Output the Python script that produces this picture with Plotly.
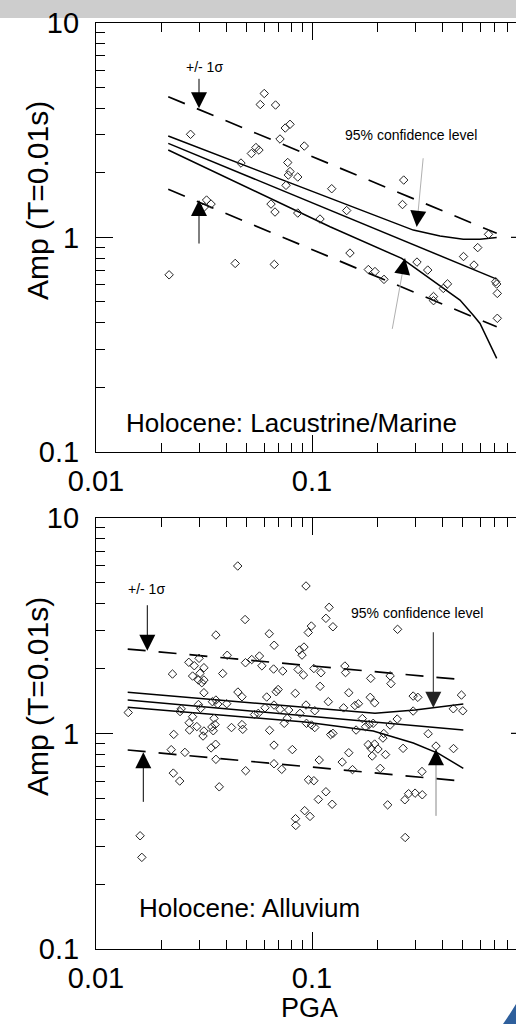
import plotly.graph_objects as go

FONT = "Liberation Sans, Arial, sans-serif"

# ---------------- Top panel: Holocene Lacustrine/Marine ----------------
lm_pga = [0.0218, 0.0274, 0.0317, 0.0325, 0.0341, 0.0441, 0.0469, 0.0524, 0.0550, 0.0568,
          0.0576, 0.0601, 0.0646, 0.0669, 0.0674, 0.0678, 0.0711, 0.0752, 0.0791, 0.0758,
          0.0772, 0.0791, 0.0777, 0.0859, 0.0859, 0.0921, 0.1089, 0.1234, 0.1447, 0.1499,
          0.1823, 0.1957, 0.2154, 0.2624, 0.2658, 0.3062, 0.3433, 0.3652, 0.3652, 0.4054,
          0.4239, 0.5029, 0.5623, 0.5851, 0.6564, 0.7087, 0.7163, 0.7210, 0.7210]
lm_amp = [0.669, 3.02, 1.384, 1.492, 1.429, 0.756, 2.219, 2.458, 2.621, 2.551,
          4.157, 4.679, 1.429, 0.748, 1.312, 4.135, 2.872, 3.231, 3.362, 1.747,
          2.232, 2.026, 1.951, 1.910, 1.298, 2.663, 1.217, 1.685, 1.333, 0.845,
          0.708, 0.693, 0.637, 1.422, 1.849, 0.767, 0.704, 0.530, 0.507, 0.578,
          0.607, 0.814, 0.743, 0.896, 1.033, 0.621, 0.606, 0.548, 0.4195]

lm_fit_pga = [0.0216, 0.7163]
lm_fit_amp = [2.742, 0.639]
lm_sig_hi = [4.521, 1.044]
lm_sig_lo = [1.674, 0.383]
lm_ci_hi_pga = [0.0216, 0.1212, 0.2944, 0.3915, 0.5018, 0.5995, 0.7163]
lm_ci_hi_amp = [2.965, 1.524, 1.081, 1.014, 0.979, 0.981, 0.998]
lm_ci_lo_pga = [0.0216, 0.1212, 0.2602, 0.4843, 0.558, 0.5995, 0.7163]
lm_ci_lo_amp = [2.551, 1.121, 0.798, 0.510, 0.434, 0.397, 0.273]

# ---------------- Bottom panel: Holocene Alluvium ----------------
al_pga = [0.0453, 0.0938, 0.120, 0.116, 0.125, 0.0490, 0.0993, 0.0961, 0.249, 0.0359,
          0.0634, 0.0668, 0.0918, 0.0874, 0.0899, 0.0405, 0.0269, 0.0300, 0.0285, 0.0316,
          0.0280, 0.0303, 0.0298, 0.0309, 0.0316, 0.0316, 0.0226, 0.0386, 0.0492, 0.0526,
          0.0571, 0.0586, 0.0664, 0.0732, 0.0862, 0.0913, 0.102, 0.110, 0.142, 0.143,
          0.187, 0.230, 0.232, 0.109, 0.0454, 0.0474, 0.0617, 0.0683, 0.0697, 0.0837,
          0.148, 0.186, 0.195, 0.294, 0.309, 0.492, 0.119, 0.140, 0.158, 0.164,
          0.294, 0.451, 0.499, 0.0141, 0.0248, 0.0245, 0.0298, 0.0305, 0.0346, 0.0366,
          0.0403, 0.0564, 0.0542, 0.0606, 0.0667, 0.0711, 0.0780, 0.0880, 0.103, 0.160,
          0.171, 0.177, 0.184, 0.192, 0.230, 0.248, 0.0943, 0.0995, 0.103, 0.122,
          0.125, 0.215, 0.213, 0.345, 0.0270, 0.0271, 0.0293, 0.0316, 0.0313, 0.0280,
          0.0352, 0.0356, 0.0344, 0.0349, 0.0424, 0.0474, 0.0478, 0.0636, 0.0744, 0.0768,
          0.0229, 0.182, 0.195, 0.188, 0.202, 0.190, 0.219, 0.264, 0.375, 0.452,
          0.148, 0.0667, 0.0811, 0.0358, 0.0341, 0.0223, 0.0258, 0.0228, 0.0244, 0.0359,
          0.0372, 0.0493, 0.0667, 0.0724, 0.108, 0.0963, 0.102, 0.138, 0.154, 0.207,
          0.323, 0.116, 0.107, 0.124, 0.0839, 0.0841, 0.0925, 0.0979, 0.224, 0.269,
          0.280, 0.300, 0.324, 0.270, 0.0160, 0.0163, 0.0359, 0.0938]
al_amp = [5.97, 4.823, 3.841, 3.415, 3.121, 3.371, 3.145, 2.935, 3.037, 2.857,
          2.897, 2.562, 2.513, 2.434, 2.307, 2.302, 2.135, 2.228, 2.059, 2.015,
          1.844, 1.898, 1.767, 1.717, 1.767, 1.543, 1.884, 1.894, 2.126, 2.199,
          2.283, 2.057, 1.987, 1.945, 1.977, 1.864, 1.998, 1.910, 2.052, 1.914,
          1.799, 1.848, 1.700, 1.652, 1.554, 1.478, 1.474, 1.559, 1.597, 1.533,
          1.543, 1.469, 1.385, 1.489, 1.469, 1.505, 1.402, 1.313, 1.346, 1.372,
          1.269, 1.300, 1.272, 1.249, 1.299, 1.262, 1.360, 1.306, 1.402, 1.367,
          1.372, 1.238, 1.222, 1.314, 1.353, 1.292, 1.283, 1.238, 1.273, 1.036,
          1.171, 1.073, 1.101, 1.113, 1.093, 1.165, 1.113, 1.093, 1.064, 0.987,
          1.000, 0.998, 0.951, 0.996, 1.120, 1.036, 1.075, 1.025, 0.972, 1.194,
          1.174, 1.098, 1.070, 1.028, 1.064, 1.098, 1.044, 1.033, 1.113, 1.174,
          0.989, 0.887, 0.892, 0.850, 0.846, 0.785, 0.797, 0.852, 0.873, 0.850,
          0.813, 0.882, 0.841, 0.890, 0.856, 0.840, 0.816, 0.654, 0.601, 0.758,
          0.565, 0.671, 0.723, 0.681, 0.752, 0.609, 0.603, 0.736, 0.679, 0.688,
          0.665, 0.536, 0.494, 0.469, 0.402, 0.374, 0.438, 0.412, 0.466, 0.492,
          0.525, 0.528, 0.519, 0.329, 0.335, 0.266, 1.427, 1.353]

al_fit_pga = [0.01402, 0.5018]
al_fit_amp = [1.427, 1.036]
al_sig_pga = [0.01402, 0.4592]
al_sig_hi = [2.460, 1.786]
al_sig_lo = [0.837, 0.605]
al_ci_hi_pga = [0.01402, 0.1957, 0.2998, 0.5018]
al_ci_hi_amp = [1.549, 1.238, 1.283, 1.367]
al_ci_lo_pga = [0.01402, 0.0928, 0.1922, 0.2944, 0.3844, 0.5018]
al_ci_lo_amp = [1.320, 1.128, 1.025, 0.902, 0.808, 0.688]

# tick labels
x_ticks = [0.01, 0.1, 1]
x_ticktext = ["0.01", "0.1", "1"]
y_ticks = [0.1, 1, 10]
y_ticktext = ["0.1", "1", "10"]

fig = go.Figure()

def add_panel(xa, ya, pga, amp, fit_pga, fit_amp, sig_pga, sig_hi, sig_lo,
              hi_pga, hi_amp, lo_pga, lo_amp):
    solid = dict(color="black", width=1.5)
    dash = dict(color="black", width=1.7, dash="18px,13px")
    fig.add_trace(go.Scatter(x=sig_pga, y=sig_hi, mode="lines", line=dash, xaxis=xa, yaxis=ya))
    fig.add_trace(go.Scatter(x=sig_pga, y=sig_lo, mode="lines", line=dash, xaxis=xa, yaxis=ya))
    fig.add_trace(go.Scatter(x=hi_pga, y=hi_amp, mode="lines", line=solid, xaxis=xa, yaxis=ya))
    fig.add_trace(go.Scatter(x=fit_pga, y=fit_amp, mode="lines", line=solid, xaxis=xa, yaxis=ya))
    fig.add_trace(go.Scatter(x=lo_pga, y=lo_amp, mode="lines", line=solid, xaxis=xa, yaxis=ya))
    fig.add_trace(go.Scatter(x=pga, y=amp, mode="markers", xaxis=xa, yaxis=ya,
                             marker=dict(symbol="diamond-open", size=6.5, color="#222",
                                         line=dict(width=1, color="#222"))))

add_panel("x", "y", lm_pga, lm_amp, lm_fit_pga, lm_fit_amp, lm_fit_pga, lm_sig_hi, lm_sig_lo,
          lm_ci_hi_pga, lm_ci_hi_amp, lm_ci_lo_pga, lm_ci_lo_amp)
add_panel("x2", "y2", al_pga, al_amp, al_fit_pga, al_fit_amp, al_sig_pga, al_sig_hi, al_sig_lo,
          al_ci_hi_pga, al_ci_hi_amp, al_ci_lo_pga, al_ci_lo_amp)

W, H = 516, 1024
x_dom = [96 / W, 1]
top_dom = [1 - 452 / H, 1 - 22.7 / H]
bot_dom = [1 - 949 / H, 1 - 517.7 / H]
x_rng = [-2, -2 + (W - 96) / 216]

tickfont = dict(family=FONT, size=29, color="black")
minor = dict(ticks="inside", ticklen=9, tickwidth=1.2, tickcolor="black", dtick="D1", showgrid=False)

def xaxis(dom_anchor):
    return dict(type="log", range=x_rng, domain=x_dom, anchor=dom_anchor, automargin=False,
                showline=True, linecolor="black", linewidth=1.2, mirror="ticks",
                ticks="inside", ticklen=17, tickwidth=1.2, tickcolor="black",
                tickvals=x_ticks, ticktext=x_ticktext, ticklabelstandoff=3,
                showgrid=False, zeroline=False, tickfont=tickfont, minor=minor)

def yaxis(dom, anchor):
    return dict(type="log", range=[-1, 1], domain=dom, anchor=anchor, automargin=False,
                showline=True, linecolor="black", linewidth=1.2, mirror=False,
                ticks="inside", ticklen=17, tickwidth=1.2, tickcolor="black",
                tickvals=y_ticks, ticktext=y_ticktext, ticklabelstandoff=10,
                showgrid=False, zeroline=False, tickfont=tickfont, minor=minor)

annots = []
# axis titles
for yc in [201, 697]:
    annots.append(dict(text="Amp (T=0.01s)", xref="paper", yref="paper", x=37 / W, y=1 - yc / H,
                       textangle=-90, showarrow=False, xanchor="center", yanchor="middle",
                       font=dict(family=FONT, size=30, color="black")))
annots.append(dict(text="PGA", xref="paper", yref="paper", x=309 / W, y=0,
                   showarrow=False, xanchor="center", yanchor="bottom", borderpad=0,
                   font=dict(family=FONT, size=27, color="black")))

small = dict(family=FONT, size=14, color="black")
big = dict(family=FONT, size=26, color="black")

annots += [
    dict(text="+/- 1σ", x=-1.4977, y=0.7936, xref="x", yref="y", showarrow=False, font=small),
    dict(text="95% confidence level", x=-0.5417, y=0.4767, xref="x", yref="y", showarrow=False, font=small),
    dict(text="Holocene: Lacustrine/Marine", x=-1.8704, y=-0.8653, xref="x", yref="y",
         xanchor="left", showarrow=False, font=big),
    dict(text="+/- 1σ", x=-1.7653, y=0.6693, xref="x2", yref="y2", showarrow=False, font=small),
    dict(text="95% confidence level", x=-0.5116, y=0.558, xref="x2", yref="y2", showarrow=False, font=small),
    dict(text="Holocene: Alluvium", x=-1.8116, y=-0.8103, xref="x2", yref="y2",
         xanchor="left", showarrow=False, font=big),
]

def arrow(x, y, xr, yr, ax, ay, color, head=2):
    return dict(text="", x=x, y=y, xref=xr, yref=yr, ax=ax, ay=ay, showarrow=True,
                arrowhead=head, arrowsize=3.2, arrowwidth=1, arrowcolor=color)

annots += [
    arrow(-1.5231, 0.6011, "x", "y", 0, -31, "black"),
    arrow(-1.5231, 0.1738, "x", "y", 0, 45, "black"),
    arrow(-0.5153, 0.0494, "x", "y", 6.6, -70, "#b0b0b0", head=0),
    arrow(-0.5153, 0.0494, "x", "y", 1.0, -10, "black"),
    arrow(-0.5694, -0.0979, "x", "y", -13, 72, "#b0b0b0", head=0),
    arrow(-0.5694, -0.0979, "x", "y", -1.8, 10, "black"),
    arrow(-1.7625, 0.3831, "x2", "y2", 0, -47, "black"),
    arrow(-1.781, -0.0881, "x2", "y2", 0, 51, "black"),
    arrow(-0.4384, 0.1187, "x2", "y2", 0, -77, "#222222"),
    arrow(-0.4259, -0.0742, "x2", "y2", 0, 68, "#888888", head=0),
    arrow(-0.4259, -0.0742, "x2", "y2", 0, 10, "black"),
]

shapes = [
    dict(type="rect", xref="paper", yref="paper", x0=0, x1=1, y0=1 - 18 / H, y1=1,
         fillcolor="#cdcdcd", line=dict(width=0), layer="below"),
    dict(type="line", xref="paper", yref="y domain", x0=511 / W, x1=1, y0=0.5, y1=0.5,
         line=dict(color="black", width=1.2)),
    dict(type="line", xref="paper", yref="y2 domain", x0=511 / W, x1=1, y0=0.5, y1=0.5,
         line=dict(color="black", width=1.2)),
    dict(type="path", xref="paper", yref="paper",
         path=f"M {503/W} 0 Q {510/W} {10/H} {1} {20/H} L 1 0 Z",
         fillcolor="#2e5f9c", line=dict(width=0)),
]

fig.update_layout(
    width=W, height=H, margin=dict(l=0, r=0, t=0, b=0, autoexpand=False),
    paper_bgcolor="white", plot_bgcolor="white", showlegend=False,
    xaxis=xaxis("y"), yaxis=yaxis(top_dom, "x"),
    xaxis2=xaxis("y2"), yaxis2=yaxis(bot_dom, "x2"),
    annotations=annots, shapes=shapes,
    font=dict(family=FONT, color="black"),
)

fig.write_html(
    "out.html",
    config={"displayModeBar": False},
    post_script="document.body.style.margin='0';document.body.style.overflow='hidden';",
)
